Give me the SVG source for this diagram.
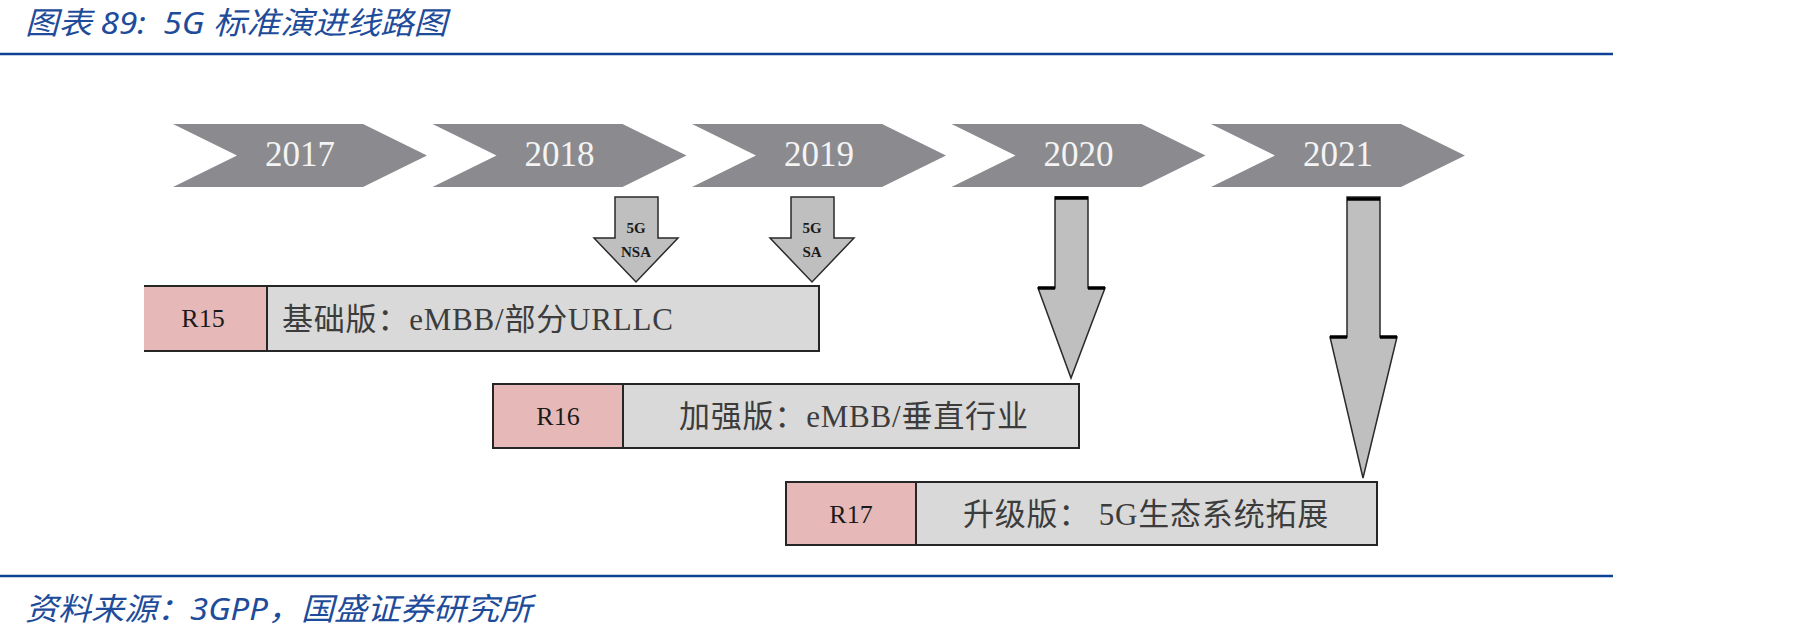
<svg xmlns="http://www.w3.org/2000/svg" width="1807" height="643" viewBox="0 0 1807 643">
<style>
.hdr{font-family:"Noto Sans","Noto Sans CJK SC",sans-serif;font-style:italic;font-size:31px;fill:#1E4C9A;white-space:pre}
.rule{stroke:#0E4194;stroke-width:2.5}
.chev{fill:#8B8B8F}
.yr{font-family:"Liberation Serif","DejaVu Serif",serif;font-size:35px;fill:#F4F4F4;text-anchor:middle}
.pink{fill:#E6B9B8}
.grey{fill:#D9D9D9}
.frame{fill:none;stroke:#262626;stroke-width:2}
.rl{font-family:"Liberation Serif",serif;font-size:26px;fill:#1A1A1A;text-anchor:middle}
.desc{font-family:"Liberation Serif","Noto Sans CJK SC",serif;font-size:31px;letter-spacing:0.8px;fill:#3C3C3C;white-space:pre}
.arr{fill:#BFBFBF;stroke:#2A2A2A;stroke-width:1.5;stroke-linejoin:miter}
.cap{stroke:#000;stroke-width:3.5}
.al{font-family:"Liberation Serif",serif;font-size:15px;font-weight:bold;fill:#1A1A1A;text-anchor:middle}
</style>
<defs>
<polygon id="chevron" points="0,124 190,124 254,155.5 190,187 0,187 64,155.5"/>
</defs>
<rect width="1807" height="643" fill="#FFFFFF"/>
<g id="title">
<text class="hdr" x="25" y="34" xml:space="preserve" textLength="422" lengthAdjust="spacingAndGlyphs">图表 89:  5G 标准演进线路图</text>
<line class="rule" x1="0" y1="54" x2="1613" y2="54"/>
</g>
<g id="timeline">
<g id="y2017"><use href="#chevron" class="chev" x="173"/><text class="yr" x="300" y="166">2017</text></g>
<g id="y2018"><use href="#chevron" class="chev" x="432.5"/><text class="yr" x="559.5" y="166">2018</text></g>
<g id="y2019"><use href="#chevron" class="chev" x="692"/><text class="yr" x="819" y="166">2019</text></g>
<g id="y2020"><use href="#chevron" class="chev" x="951.5"/><text class="yr" x="1078.5" y="166">2020</text></g>
<g id="y2021"><use href="#chevron" class="chev" x="1211"/><text class="yr" x="1338" y="166">2021</text></g>
</g>
<g id="R15">
<rect class="pink" x="144" y="286" width="123" height="65"/>
<rect class="grey" x="267" y="286" width="552" height="65"/>
<path class="frame" d="M144,286 H819 V351 H144 M267,286 V351"/>
<text class="rl" x="203" y="327">R15</text>
<text class="desc" x="282" y="330">基础版：eMBB/部分URLLC</text>
</g>
<g id="R16">
<rect class="pink" x="493" y="384" width="130" height="64"/>
<rect class="grey" x="623" y="384" width="456" height="64"/>
<rect class="frame" x="493" y="384" width="586" height="64"/>
<line class="frame" x1="623" y1="384" x2="623" y2="448"/>
<text class="rl" x="558" y="425">R16</text>
<text class="desc" x="679" y="427">加强版：eMBB/垂直行业</text>
</g>
<g id="R17">
<rect class="pink" x="786" y="482" width="130" height="63"/>
<rect class="grey" x="916" y="482" width="461" height="63"/>
<rect class="frame" x="786" y="482" width="591" height="63"/>
<line class="frame" x1="916" y1="482" x2="916" y2="545"/>
<text class="rl" x="851" y="523">R17</text>
<text class="desc" x="963" y="525" xml:space="preserve">升级版： 5G生态系统拓展</text>
</g>
<g id="connectors">
<g id="nsa">
<polygon class="arr" points="615,197 658,197 658,238 678,238 636,282 594,238 615,238"/>
<text class="al" x="636" y="233">5G</text>
<text class="al" x="636" y="257">NSA</text>
</g>
<g id="sa">
<polygon class="arr" points="791,197 834,197 834,238 854,238 812,282 770,238 791,238"/>
<text class="al" x="812" y="233">5G</text>
<text class="al" x="812" y="257">SA</text>
</g>
<g id="arrow2020">
<polygon class="arr" points="1055,197 1088,197 1088,288 1105,288 1071,378 1038,288 1055,288"/>
<line class="cap" x1="1055" y1="198" x2="1088" y2="198"/>
<line class="cap" x1="1038" y1="288" x2="1055" y2="288"/>
<line class="cap" x1="1088" y1="288" x2="1105" y2="288"/>
</g>
<g id="arrow2021">
<polygon class="arr" points="1347,197 1380,197 1380,337 1397,337 1363,478 1330,337 1347,337"/>
<line class="cap" x1="1347" y1="199" x2="1380" y2="199" stroke-width="5"/>
<line class="cap" x1="1330" y1="337" x2="1347" y2="337"/>
<line class="cap" x1="1380" y1="337" x2="1397" y2="337"/>
</g>
</g>
<g id="source">
<line class="rule" x1="0" y1="576" x2="1613" y2="576"/>
<text class="hdr" x="25" y="620" textLength="507" lengthAdjust="spacingAndGlyphs">资料来源：3GPP，国盛证券研究所</text>
</g>
</svg>
